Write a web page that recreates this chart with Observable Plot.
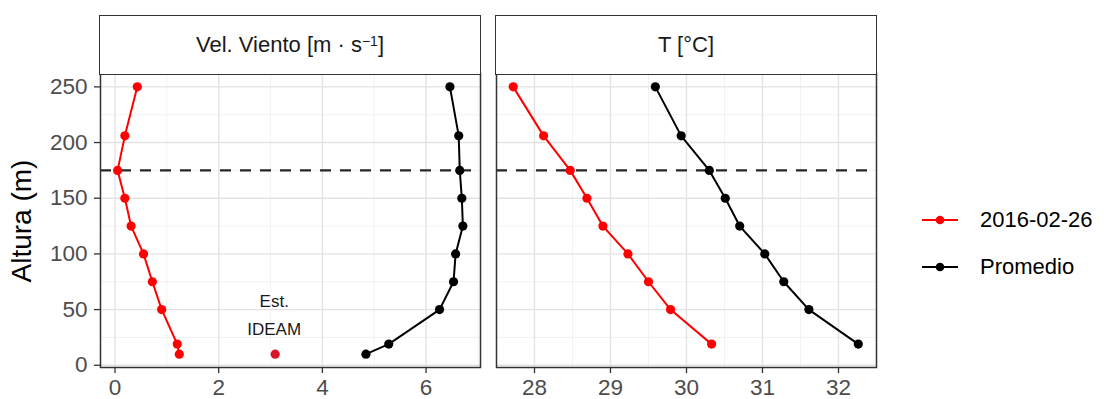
<!DOCTYPE html>
<html><head><meta charset="utf-8">
<script src="https://cdn.jsdelivr.net/npm/d3@7"></script>
<script src="https://cdn.jsdelivr.net/npm/@observablehq/plot@0.6"></script>
<style>
body{margin:0;background:#fff;}
#wrap{position:relative;width:1104px;height:399px;overflow:hidden;font-family:"Liberation Sans",Arial,sans-serif;background:#fff;}
#wrap svg{position:absolute;top:0;overflow:visible;}
.strip{position:absolute;box-sizing:border-box;border:1.5px solid #333;background:#fff;display:flex;align-items:center;justify-content:center;font-size:22px;color:#1a1a1a;white-space:nowrap;}
.strip sup{font-size:14px;position:relative;top:-4px;}
.ytitle{position:absolute;left:22px;top:221px;transform:translate(-50%,-50%) rotate(-90deg);font-size:28px;color:#000;white-space:nowrap;}
.legend{position:absolute;left:920px;font-size:22px;color:#000;}
.legrow{position:absolute;left:0;display:flex;align-items:center;white-space:nowrap;height:30px;transform:translateY(-50%);}
.legrow svg{position:static !important;margin-right:20px;}
</style></head><body><div id="wrap"></div>
<script>
// ---- data ----
const series = ["2016-02-26", "Promedio"];
const seriesColors = ["#ff0000", "#000000"];
const windHeights = [250, 206, 175, 150, 125, 100, 75, 50, 19, 10];
const windDay = [0.43, 0.19, 0.05, 0.19, 0.31, 0.55, 0.72, 0.90, 1.20, 1.24];
const windMean = [6.46, 6.63, 6.65, 6.69, 6.71, 6.57, 6.53, 6.26, 5.28, 4.84];
const tempHeights = [250, 206, 175, 150, 125, 100, 75, 50, 19];
const tempDay = [27.72, 28.12, 28.47, 28.69, 28.90, 29.23, 29.50, 29.79, 30.33];
const tempMean = [29.59, 29.93, 30.30, 30.51, 30.70, 31.03, 31.28, 31.61, 32.26];
const ideamSpeed = [3.09];
const ideamHeight = [10];
const ideamLabel = ["Est.\nIDEAM"];
const referenceHeight = [175];
const yTicks = [0, 50, 100, 150, 200, 250];
const yMinor = [25, 75, 125, 175, 225];
const windTicks = [0, 2, 4, 6];
const windMinor = [1, 3, 5, 7];
const tempTicks = [28, 29, 30, 31, 32];
const tempMinor = [27.5, 28.5, 29.5, 30.5, 31.5, 32.5];
const stripLabels = ["Vel. Viento [m · s<sup>−1</sup>]", "T [°C]"];
const yTitle = "Altura (m)";

// ---- tables ----
const windRows = [];
series.forEach((s, i) => {
  const vals = i === 0 ? windDay : windMean;
  windHeights.forEach((h, j) => windRows.push({s, h, v: vals[j]}));
});
const tempRows = [];
series.forEach((s, i) => {
  const vals = i === 0 ? tempDay : tempMean;
  tempHeights.forEach((h, j) => tempRows.push({s, h, v: vals[j]}));
});
const ideamRows = ideamSpeed.map((v, i) => ({v, h: ideamHeight[i], label: ideamLabel[i]}));

const FONT = '"Liberation Sans", Arial, sans-serif';
const H = 399, MT = 73, MB = 32;
const yDomain = [-2, 262];
const color = {domain: series, range: seriesColors};

function gridMarks(xMinor, xMajor) {
  return [
    Plot.gridX(xMinor, {stroke: "#f0f0f0", strokeOpacity: 1, strokeWidth: 0.9}),
    Plot.gridY(yMinor, {stroke: "#f0f0f0", strokeOpacity: 1, strokeWidth: 0.9}),
    Plot.gridX(xMajor, {stroke: "#e3e3e3", strokeOpacity: 1, strokeWidth: 1.4}),
    Plot.gridY(yTicks, {stroke: "#e3e3e3", strokeOpacity: 1, strokeWidth: 1.4})
  ];
}
function dataMarks(rows) {
  return [
    Plot.ruleY(referenceHeight, {stroke: "#262626", strokeWidth: 2.3, strokeDasharray: "11,9"}),
    Plot.line(rows, {x: "v", y: "h", z: "s", stroke: "s", strokeWidth: 2}),
    Plot.dot(rows, {x: "v", y: "h", fill: "s", r: 4.6})
  ];
}

const p1 = Plot.plot({
  width: 482, height: H,
  marginLeft: 100, marginRight: 2, marginTop: MT, marginBottom: MB,
  x: {domain: [-0.28, 7.05]},
  y: {domain: yDomain},
  color,
  style: {fontFamily: FONT, background: "transparent"},
  marks: [
    ...gridMarks(windMinor, windTicks),
    ...dataMarks(windRows),
    Plot.dot(ideamRows, {x: "v", y: "h", fill: "#dc1428", r: 4.6}),
    Plot.text(ideamRows, {x: "v", y: "h", text: "label", dy: -42, dx: -1, fontSize: 17, lineHeight: 1.62, fill: "#1a1a1a"}),
    Plot.frame({stroke: "#333", strokeWidth: 1.5}),
    Plot.axisX(windTicks, {tickSize: 6, tickPadding: 6, fontSize: 22.5, stroke: "#333", fill: "#4d4d4d", strokeWidth: 1.3, label: null}),
    Plot.axisY(yTicks, {tickSize: 6, tickPadding: 7, fontSize: 22.5, stroke: "#333", fill: "#4d4d4d", strokeWidth: 1.3, label: null})
  ]
});

const p2 = Plot.plot({
  width: 384, height: H,
  marginLeft: 2, marginRight: 2, marginTop: MT, marginBottom: MB,
  x: {domain: [27.5, 32.5]},
  y: {domain: yDomain, axis: null},
  color,
  style: {fontFamily: FONT, background: "transparent"},
  marks: [
    ...gridMarks(tempMinor, tempTicks),
    ...dataMarks(tempRows),
    Plot.frame({stroke: "#333", strokeWidth: 1.5}),
    Plot.axisX(tempTicks, {tickSize: 6, tickPadding: 6, fontSize: 22.5, stroke: "#333", fill: "#4d4d4d", strokeWidth: 1.3, label: null})
  ]
});

const wrap = document.getElementById("wrap");
p1.style.left = "0px";
p2.style.left = "494px";
wrap.appendChild(p1);
wrap.appendChild(p2);

// strips
[[100, 380], [496, 380]].forEach(([l, w], i) => {
  const d = document.createElement("div");
  d.className = "strip";
  d.style.left = (l - 0.75) + "px";
  d.style.top = "15px";
  d.style.width = (w + 1.5) + "px";
  d.style.height = "60px";
  d.innerHTML = stripLabels[i];
  wrap.appendChild(d);
});

// y title
const yt = document.createElement("div");
yt.className = "ytitle";
yt.textContent = yTitle;
wrap.appendChild(yt);

// legend
const leg = document.createElement("div");
leg.className = "legend";
leg.style.top = "0px";
const legY = [220, 267];
series.forEach((s, i) => {
  const row = document.createElement("div");
  row.className = "legrow";
  row.style.top = legY[i] + "px";
  const c = seriesColors[i];
  row.innerHTML = `<svg width="40" height="20" viewBox="0 0 40 20"><line x1="2" y1="10" x2="38" y2="10" stroke="${c}" stroke-width="2"/><circle cx="20" cy="10" r="4.3" fill="${c}"/></svg><span>${s}</span>`;
  leg.appendChild(row);
});
wrap.appendChild(leg);
</script>
</body></html>
